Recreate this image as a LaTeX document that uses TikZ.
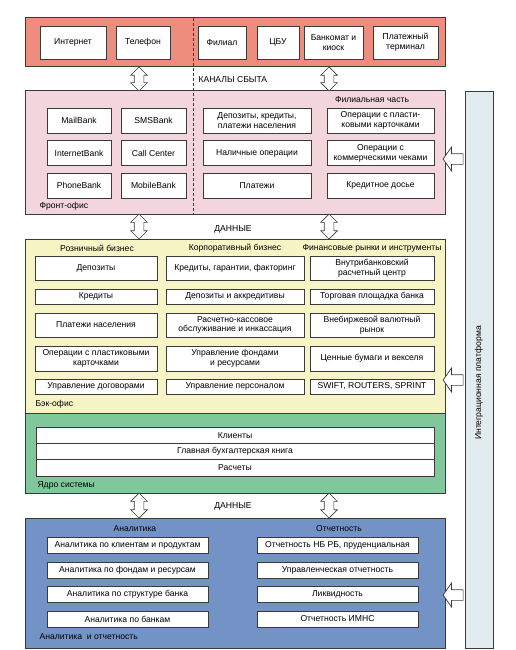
\documentclass[tikz,border=0pt]{standalone}
\usepackage{fontspec}
\setmainfont{Liberation Sans}
\usetikzlibrary{shapes.arrows}
\definecolor{edgegray}{HTML}{3A3A3A}
\definecolor{chanred}{HTML}{EE8C7E}
\definecolor{frontpink}{HTML}{F3D5DE}
\definecolor{backyellow}{HTML}{F7F4C6}
\definecolor{coregreen}{HTML}{80C89B}
\definecolor{analblue}{HTML}{7393C6}
\definecolor{platfgray}{HTML}{E2EBEE}
\begin{document}
\begin{tikzpicture}[x=1pt, y=-1pt,
    font=\fontsize{8.6}{9.8}\selectfont,
    panel/.style={draw=edgegray, line width=1pt, inner sep=0pt, outer sep=0pt},
    box/.style={draw=edgegray, line width=0.8pt, fill=white, inner sep=0pt, align=center},
    dblarr/.style={double arrow, draw=edgegray, fill=white, line width=0.7pt, rotate=90,
        inner sep=4.5pt, double arrow head extend=3.5pt, minimum height=25pt},
    leftarr/.style={single arrow, draw=edgegray, fill=white, line width=0.7pt, rotate=180,
        inner sep=5pt, single arrow head extend=6.5pt, single arrow tip angle=110, minimum height=20pt}]
    \useasboundingbox (0,0) rectangle (515,650);

    \node[panel, fill=platfgray, minimum width=28, minimum height=556] (platf) at (479, 370) {};
    \node[rotate=90] (platf_lbl) at (479, 383) {Интеграционная платформа};

    \node[panel, fill=chanred, minimum width=420, minimum height=49] (chan) at (235, 42.5) {};
    \node[box, minimum width=66, minimum height=33] (ch_inet) at (73, 42.5) {Интернет};
    \node[box, minimum width=54, minimum height=33] (ch_tel) at (143, 42.5) {Телефон};
    \node[box, minimum width=48, minimum height=33] (ch_fil) at (222, 42.5) {Филиал};
    \node[box, minimum width=42, minimum height=33] (ch_cbu) at (278, 42.5) {ЦБУ};
    \node[box, minimum width=59, minimum height=33] (ch_atm) at (333.5, 42.5) {Банкомат и\\киоск};
    \node[box, minimum width=65, minimum height=33] (ch_term) at (405.5, 42.5) {Платежный\\терминал};

    \node[panel, fill=frontpink, minimum width=420, minimum height=123] (front) at (235, 152.5) {};
    \node[box, minimum width=64, minimum height=25] (fo_mail) at (79, 120.5) {MailBank};
    \node[box, minimum width=65, minimum height=25] (fo_sms) at (153.5, 120.5) {SMSBank};
    \node[box, minimum width=64, minimum height=25] (fo_inet) at (79, 153) {InternetBank};
    \node[box, minimum width=65, minimum height=25] (fo_call) at (153.5, 153) {Call Center};
    \node[box, minimum width=64, minimum height=25] (fo_phone) at (79, 185.5) {PhoneBank};
    \node[box, minimum width=65, minimum height=25] (fo_mob) at (153.5, 185.5) {MobileBank};
    \node[box, minimum width=108, minimum height=25] (fo_dep) at (257, 120.5) {Депозиты, кредиты,\\платежи населения};
    \node[box, minimum width=107, minimum height=25] (fo_card) at (380.5, 120.5) {Операции с пласти-\\ковыми карточками};
    \node[box, minimum width=108, minimum height=25] (fo_cash) at (257, 153) {Наличные операции};
    \node[box, minimum width=107, minimum height=25] (fo_chk) at (380.5, 153) {Операции с\\коммерческими чеками};
    \node[box, minimum width=108, minimum height=25] (fo_pay) at (257, 185.5) {Платежи};
    \node[box, minimum width=107, minimum height=25] (fo_dos) at (380.5, 185.5) {Кредитное досье};
    \node (fo_fil) at (372, 100) {Филиальная часть};
    \node[anchor=west] (fo_lbl) at (36, 206) {Фронт-офис};

    \coordinate (dash_top) at (193, 18);
    \coordinate (dash_bot) at (193, 214);
    \draw[edgegray, line width=0.6pt, dash pattern=on 3pt off 2pt] (dash_top) -- (dash_bot);
    \node[anchor=west] (ch_lbl) at (195, 80) {КАНАЛЫ СБЫТА};
    \node[dblarr, minimum height=24] (a_ch1) at (139, 79) {};
    \node[dblarr, minimum height=24] (a_ch2) at (329, 79) {};

    \node[dblarr] (a_fo1) at (139, 226.5) {};
    \node[dblarr] (a_fo2) at (329, 226.5) {};
    \node (fo_data) at (233, 229) {ДАННЫЕ};

    \node[panel, fill=backyellow, minimum width=420, minimum height=174] (back) at (235, 326) {};
    \node (bo_retail) at (97, 248) {Розничный бизнес};
    \node (bo_corp) at (235, 248) {Корпоративный бизнес};
    \node (bo_fin) at (372, 248) {Финансовые рынки и инструменты};
    \node[box, minimum width=122, minimum height=24] (bo_dep) at (96, 268) {Депозиты};
    \node[box, minimum width=122, minimum height=15] (bo_cred) at (96, 296.5) {Кредиты};
    \node[box, minimum width=122, minimum height=24] (bo_pay) at (96, 325) {Платежи населения};
    \node[box, minimum width=122, minimum height=25] (bo_card) at (96, 358.5) {Операции с пластиковыми\\карточками};
    \node[box, minimum width=122, minimum height=15] (bo_contr) at (96, 386.5) {Управление договорами};
    \node[box, minimum width=138, minimum height=24] (bo_guar) at (235, 268) {Кредиты, гарантии, факторинг};
    \node[box, minimum width=138, minimum height=15] (bo_accr) at (235, 296.5) {Депозиты и аккредитивы};
    \node[box, minimum width=138, minimum height=24] (bo_rko) at (235, 325) {Расчетно-кассовое\\обслуживание и инкассация};
    \node[box, minimum width=138, minimum height=25] (bo_fund) at (235, 358.5) {Управление фондами\\и ресурсами};
    \node[box, minimum width=138, minimum height=15] (bo_staff) at (235, 386.5) {Управление персоналом};
    \node[box, minimum width=124, minimum height=24] (bo_ibc) at (372, 268) {Внутрибанковский\\расчетный центр};
    \node[box, minimum width=124, minimum height=15] (bo_trade) at (372, 296.5) {Торговая площадка банка};
    \node[box, minimum width=124, minimum height=24] (bo_otc) at (372, 325) {Внебиржевой валютный\\рынок};
    \node[box, minimum width=124, minimum height=25] (bo_sec) at (372, 358.5) {Ценные бумаги и векселя};
    \node[box, minimum width=124, minimum height=15] (bo_swift) at (372, 386.5) {SWIFT, ROUTERS, SPRINT};
    \node[anchor=west] (bo_lbl) at (32, 404) {Бэк-офис};

    \node[panel, fill=coregreen, minimum width=420, minimum height=80] (core) at (235, 453) {};
    \node[box, minimum width=398, minimum height=16.3] (co_cli) at (235, 435.2) {Клиенты};
    \node[box, minimum width=398, minimum height=16.3] (co_gl) at (235, 451.5) {Главная бухгалтерская книга};
    \node[box, minimum width=398, minimum height=16.3] (co_calc) at (235, 467.8) {Расчеты};
    \node[anchor=west] (co_lbl) at (34, 485) {Ядро системы};

    \node[dblarr] (a_co1) at (139, 505.5) {};
    \node[dblarr] (a_co2) at (329, 505.5) {};
    \node (co_data) at (233, 506) {ДАННЫЕ};

    \node[panel, fill=analblue, minimum width=420, minimum height=130] (anal) at (235, 583) {};
    \node (an_hdr) at (135, 529) {Аналитика};
    \node (rp_hdr) at (339, 529) {Отчетность};
    \node[box, minimum width=161, minimum height=16] (an_cli) at (127.5, 545) {Аналитика по клиентам и продуктам};
    \node[box, minimum width=161, minimum height=16] (an_fund) at (127.5, 570) {Аналитика по фондам и ресурсам};
    \node[box, minimum width=161, minimum height=16] (an_str) at (127.5, 594.5) {Аналитика по структуре банка};
    \node[box, minimum width=161, minimum height=16] (an_bank) at (127.5, 619) {Аналитика по банкам};
    \node[box, minimum width=161, minimum height=16] (rp_nb) at (337.5, 545) {Отчетность НБ РБ, пруденциальная};
    \node[box, minimum width=161, minimum height=16] (rp_mgmt) at (337.5, 570) {Управленческая отчетность};
    \node[box, minimum width=161, minimum height=16] (rp_liq) at (337.5, 594.5) {Ликвидность};
    \node[box, minimum width=161, minimum height=16] (rp_imns) at (337.5, 619) {Отчетность ИМНС};
    \node[anchor=west] (an_lbl) at (36, 637) {Аналитика \ и отчетность};

    \node[leftarr] (a_pl1) at (455, 159) {};
    \node[leftarr] (a_pl2) at (455, 380) {};
    \node[leftarr] (a_pl3) at (455, 595) {};
\end{tikzpicture}
\end{document}
